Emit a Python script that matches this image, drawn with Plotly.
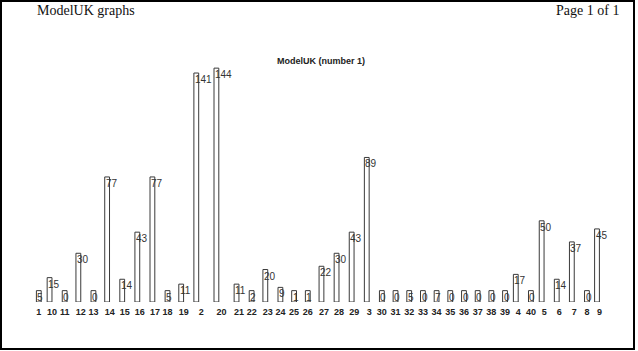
import plotly.graph_objects as go

# ---- data ----
categories = ["1", "10", "11", "12", "13", "14", "15", "16", "17", "18", "19",
              "2", "20", "21", "22", "23", "24", "25", "26", "27", "28", "29",
              "3", "30", "31", "32", "33", "34", "35", "36", "37", "38", "39",
              "4", "40", "5", "6", "7", "8", "9"]
values = [5, 15, 0, 30, 0, 77, 14, 43, 77, 5, 11,
          141, 144, 11, 2, 20, 9, 1, 1, 22, 30, 43,
          89, 0, 0, 5, 0, 7, 0, 0, 0, 0, 0,
          17, 0, 50, 14, 37, 0, 45]
title_text = "ModelUK (number 1)"
header_left = "ModelUK graphs"
header_right = "Page 1 of 1"

# ---- layout helpers (mimic the original software's label-driven spacing) ----
W, H = 638, 351
L_M, R_M, T_M, B_M = 30, 34, 58, 49
PX_PER_UNIT = 1.624          # vertical px per value unit
MIN_VIS = 7                  # original draws a minimum-height box for tiny values
VAL_CH = 5.0                 # px per digit of value label
TICK_CH = 2.9                # half-ish px per tick char

labels = [str(v) for v in values]
pos = [0.0]
for i in range(len(categories) - 1):
    g = max(VAL_CH * len(labels[i]) + 5,
            TICK_CH * (len(categories[i]) + len(categories[i + 1])) + 2)
    pos.append(pos[-1] + g)

first_px, last_px = 38.8, 597.0
s = (last_px - first_px) / pos[-1]          # px per x unit
plot_w = W - L_M - R_M
x0 = pos[0] - (first_px - L_M) / s
x1 = x0 + plot_w / s
bar_w = 4.8 / s
tick_pos = [p + max(0.0, VAL_CH * len(lb) - 5) / 2 / s for p, lb in zip(pos, labels)]
disp = [max(v, MIN_VIS) for v in values]

plot_h = H - T_M - B_M
y_top = plot_h / PX_PER_UNIT

fig = go.Figure()
fig.add_trace(go.Bar(
    x=pos, y=disp, width=bar_w,
    marker=dict(color="white", line=dict(color="#3a3a3a", width=1)),
    hoverinfo="skip",
))

annotations = []
for p, d, lb in zip(pos, disp, labels):
    annotations.append(dict(
        x=p - bar_w / 2, y=d, xref="x", yref="y", text=lb,
        xanchor="left", yanchor="top", showarrow=False, xshift=-1, yshift=1,
        font=dict(family="Liberation Sans, Arial", size=10, color="#333333"),
    ))

def px_to_paper_x(px):
    return (px - L_M) / plot_w

def px_to_paper_y(py):
    return (H - B_M - py) / plot_h

annotations.append(dict(
    x=px_to_paper_x(35), y=px_to_paper_y(10), xref="paper", yref="paper",
    text=header_left, xanchor="left", yanchor="middle", showarrow=False,
    font=dict(family="Liberation Serif, Times New Roman", size=14, color="#111111")))
annotations.append(dict(
    x=px_to_paper_x(621), y=px_to_paper_y(10), xref="paper", yref="paper",
    text=header_right, xanchor="right", yanchor="middle", showarrow=False,
    font=dict(family="Liberation Serif, Times New Roman", size=14, color="#111111")))
annotations.append(dict(
    x=px_to_paper_x(321), y=px_to_paper_y(61), xref="paper", yref="paper",
    text="<b>" + title_text + "</b>", xanchor="center", yanchor="middle", showarrow=False,
    font=dict(family="Liberation Sans, Arial", size=9, color="#222222")))

shapes = [dict(
    type="rect", xref="paper", yref="paper",
    x0=px_to_paper_x(1), x1=px_to_paper_x(634),
    y0=px_to_paper_y(349), y1=px_to_paper_y(1),
    line=dict(color="#000000", width=2), fillcolor="rgba(0,0,0,0)", layer="above")]

fig.update_layout(
    width=W, height=H,
    margin=dict(l=L_M, r=R_M, t=T_M, b=B_M, pad=0),
    paper_bgcolor="white", plot_bgcolor="white",
    showlegend=False,
    annotations=annotations, shapes=shapes,
    xaxis=dict(range=[x0, x1], tickmode="array", tickvals=tick_pos,
               ticktext=["<b>" + c + "</b>" for c in categories],
               showgrid=False, zeroline=False, showline=False, ticks="",
               ticklabelstandoff=3,
               tickfont=dict(family="Liberation Sans, Arial", size=9, color="#222222"),
               fixedrange=True),
    yaxis=dict(range=[0, y_top], visible=False, showgrid=False, zeroline=False,
               fixedrange=True),
)

fig.write_html("out.html")
